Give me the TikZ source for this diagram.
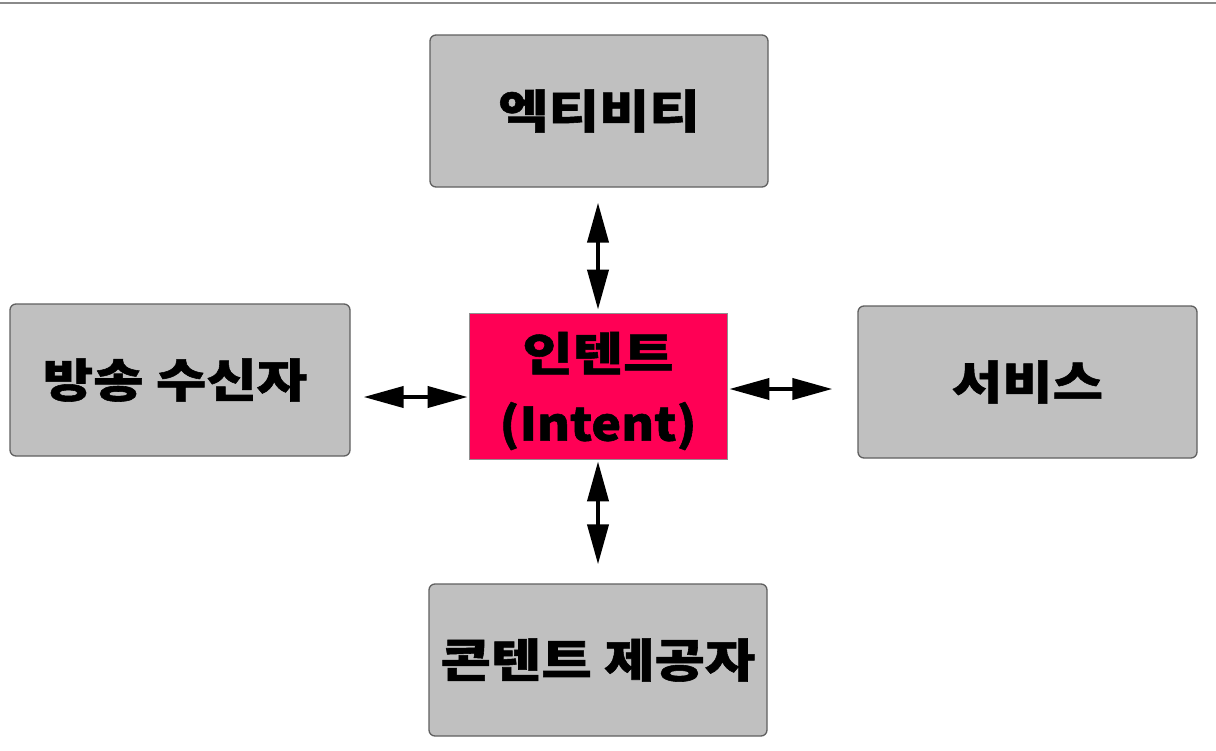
\documentclass[tikz,border=0pt]{standalone}
\usepackage{fontspec}
\newfontfamily\kr{Noto Sans CJK KR}[BoldFeatures={FakeStretch=1.19,FakeBold=1.2}]
\newfontfamily\krlat{Noto Sans CJK KR}[BoldFeatures={FakeStretch=1.09,FakeBold=1.2}]
\usetikzlibrary{arrows.meta}
\definecolor{boxgray}{HTML}{C0C0C0}
\definecolor{boxline}{HTML}{606060}
\definecolor{intentred}{HTML}{FF0055}
\definecolor{topline}{HTML}{8A8A8A}
\tikzset{
  graybox/.style={draw=boxline, line width=1.3pt, fill=boxgray, rounded corners=6pt,
    minimum width=338pt, minimum height=152pt, inner sep=0pt,
    font=\kr\bfseries\fontsize{46}{56}\selectfont},
  redbox/.style={draw=boxline!70, line width=0.8pt, fill=intentred,
    minimum width=258pt, minimum height=146pt, inner sep=0pt},
  redtext/.style={inner sep=0pt, align=center, font=\kr\bfseries\fontsize{46}{70}\selectfont},
  dbl/.style={line width=4pt, {Triangle[length=40pt,width=21pt]}-{Triangle[length=40pt,width=21pt]}}
}
\begin{document}
\begin{tikzpicture}[x=1pt,y=-1pt]
\useasboundingbox (0,0) rectangle (1216,750);
\draw[topline, line width=2pt] (0,3) -- (1216,3);
\node[graybox] (ent) at (599,111) {엑티비티};
\node[graybox, minimum width=340pt] (recv) at (180,380) {\kern-10pt 방송 수신자};
\node[redbox] (intent) at (598,386) {};
\node[redtext] (intenttext) at (598,391) {인텐트\\{\krlat\bfseries (Intent)}};
\node[graybox, minimum width=339pt] (svc) at (1027.5,382) {서비스};
\node[graybox] (prov) at (598,660) {콘텐트 제공자};
\draw[dbl, shorten <=15pt, shorten >=3pt] (intent.north |- ent.south) -- (intent.north);
\draw[dbl, shorten <=2pt, shorten >=19pt] (intent.south) -- (intent.south |- prov.north);
\draw[dbl, shorten <=13pt, shorten >=1pt] (recv.east |- 0,397) -- (intent.west |- 0,397);
\draw[dbl, shorten <=2pt, shorten >=25pt] (intent.east |- 0,389) -- (svc.west |- 0,389);
\end{tikzpicture}
\end{document}
